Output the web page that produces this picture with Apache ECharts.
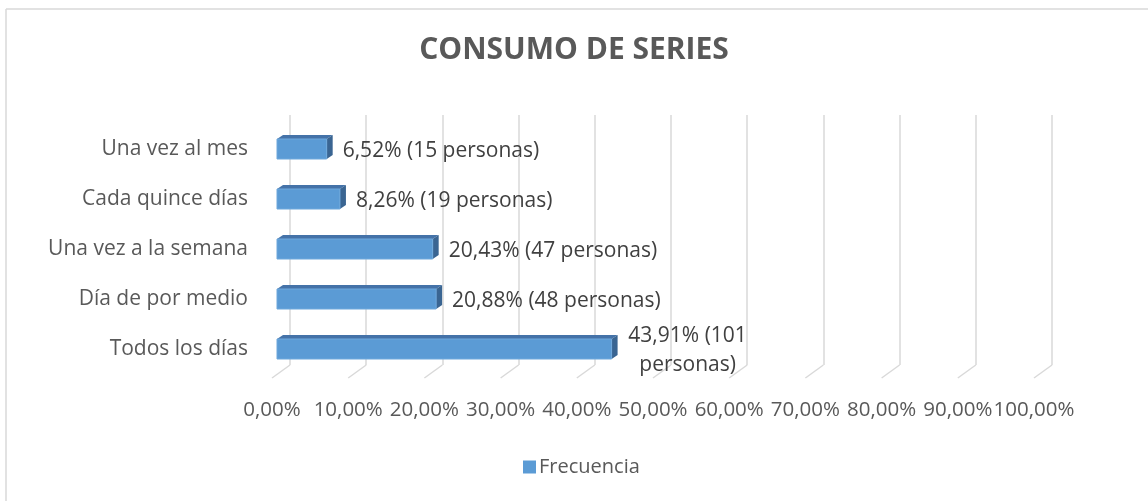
<!DOCTYPE html>
<html>
<head>
<meta charset="utf-8">
<script src="https://cdn.jsdelivr.net/npm/echarts@6/dist/echarts.min.js"></script>
<style>
  html, body { margin: 0; padding: 0; background: #fff; }
  #chart { width: 1148px; height: 501px; }
</style>
</head>
<body>
<div id="chart"></div>
<script>
// datos (de abajo hacia arriba, como en Excel)
const categories = ['Todos los días', 'Día de por medio', 'Una vez a la semana', 'Cada quince días', 'Una vez al mes'];
const frecuencia = [43.91, 20.88, 20.43, 8.26, 6.52];
const personas = [101, 48, 47, 19, 15];
const wrapLabel = [true, false, false, false, false];
const ticks = [0, 10, 20, 30, 40, 50, 60, 70, 80, 90, 100];

const FONT = 'Open Sans';
const chart = echarts.init(document.getElementById('chart'));

function pct(v) {
  return v.toFixed(2).replace('.', ',') + '%';
}

const option = {
  animation: false,
  backgroundColor: '#fff',
  title: {
    text: 'CONSUMO DE SERIES',
    left: 'center',
    top: 30,
    textStyle: { fontFamily: FONT, fontSize: 30, fontWeight: 'bold', color: '#595959' },
  },
  legend: {
    left: 518,
    top: 452,
    icon: 'rect',
    itemWidth: 13,
    itemHeight: 13,
    itemGap: 6,
    data: ['Frecuencia'],
    textStyle: { fontFamily: FONT, fontSize: 20, color: '#595959', padding: [0, 0, 0, -2] },
  },
  color: ['#5B9BD5'],
  grid: [
    // pared del fondo (líneas de división)
    { left: 290, width: 762, top: 115, height: 250 },
    // etiquetas del eje (borde delantero del suelo)
    { left: 272, width: 762, top: 300, height: 78 },
    // barras
    { left: 277, width: 762, top: 124, height: 250 },
  ],
  xAxis: [
    {
      gridIndex: 0, type: 'value', min: 0, max: 100, interval: 10,
      axisLine: { show: false }, axisTick: { show: false }, axisLabel: { show: false },
      splitLine: { show: true, lineStyle: { color: '#d9d9d9', width: 1.5 } },
    },
    {
      gridIndex: 1, type: 'value', min: 0, max: 100, interval: 10,
      axisLine: { show: false }, axisTick: { show: false }, splitLine: { show: false },
      axisLabel: { margin: 22, fontFamily: FONT, fontSize: 20.5, color: '#595959', formatter: (v) => pct(v) },
    },
    {
      gridIndex: 2, type: 'value', min: 0, max: 100,
      show: false,
    },
  ],
  yAxis: [
    { gridIndex: 0, type: 'value', min: 0, max: 1, show: false },
    { gridIndex: 1, type: 'value', min: 0, max: 1, show: false },
    {
      gridIndex: 2, type: 'category', data: categories,
      axisLine: { show: false }, axisTick: { show: false }, splitLine: { show: false },
      axisLabel: { margin: 29, fontFamily: FONT, fontSize: 21, color: '#595959' },
    },
  ],
  series: [
    {
      // diagonales del suelo
      type: 'custom',
      xAxisIndex: 0,
      yAxisIndex: 0,
      silent: true,
      data: ticks.map((t) => [t, 0]),
      renderItem: (params, api) => {
        const p = api.coord([api.value(0), 0]);
        return {
          type: 'line',
          shape: { x1: p[0], y1: p[1], x2: p[0] - 18, y2: p[1] + 13 },
          style: { stroke: '#d9d9d9', lineWidth: 1.5 },
        };
      },
    },
    {
      name: 'Frecuencia',
      type: 'custom',
      xAxisIndex: 2,
      yAxisIndex: 2,
      data: frecuencia.map((v, i) => [v, i]),
      renderItem: (params, api) => {
        const i = api.value(1);
        const a = api.coord([0, i]);
        const b = api.coord([api.value(0), i]);
        const h = 20, dx = 6, dy = 4;
        const x0 = a[0], x1 = b[0], yt = a[1] - h / 2, yb = a[1] + h / 2;
        let text = pct(api.value(0)) + ' (' + personas[i] + (wrapLabel[i] ? '\npersonas)' : ' personas)');
        const label = wrapLabel[i]
          ? { x: x1 + dx + 70, y: a[1] + 2, text: text, align: 'center' }
          : { x: x1 + dx + 10, y: a[1] + 2, text: text, align: 'left' };
        return {
          type: 'group',
          children: [
            {
              type: 'polygon',
              shape: { points: [[x0, yt], [x0 + dx, yt - dy], [x1 + dx, yt - dy], [x1, yt]] },
              style: { fill: '#4472A8' },
            },
            {
              type: 'polygon',
              shape: { points: [[x1, yt], [x1 + dx, yt - dy], [x1 + dx, yb - dy], [x1, yb]] },
              style: { fill: '#3A6592' },
            },
            {
              type: 'rect',
              shape: { x: x0, y: yt, width: x1 - x0, height: h },
              style: { fill: '#5B9BD5', stroke: '#6FA8DC', lineWidth: 1 },
            },
            {
              type: 'text',
              style: {
                x: label.x, y: label.y, text: label.text,
                align: label.align, verticalAlign: 'middle',
                fontFamily: FONT, fontSize: 21, lineHeight: 29, fill: '#404040',
              },
            },
          ],
        };
      },
    },
  ],
  graphic: [
    { type: 'line', shape: { x1: 6, y1: 9, x2: 1148, y2: 9 }, style: { stroke: '#d9d9d9', lineWidth: 1.5 }, silent: true },
    { type: 'line', shape: { x1: 6, y1: 9, x2: 6, y2: 501 }, style: { stroke: '#d9d9d9', lineWidth: 1.5 }, silent: true },
  ],
};

chart.setOption(option);
</script>
</body>
</html>
